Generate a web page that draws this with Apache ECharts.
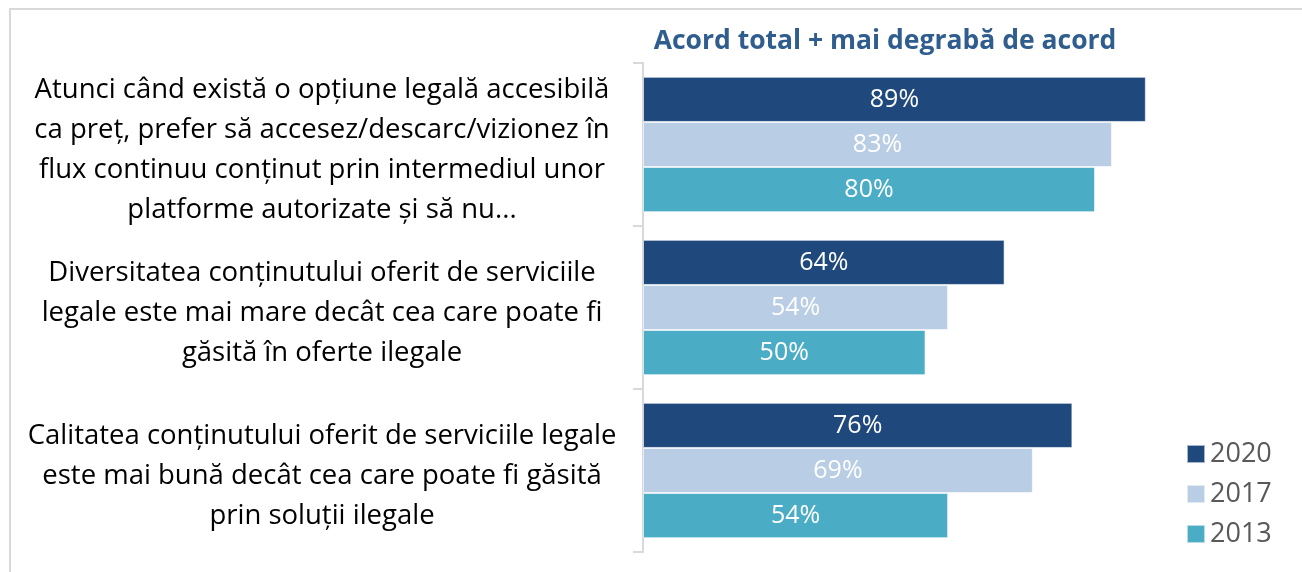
<!DOCTYPE html>
<html>
<head>
<meta charset="utf-8">
<script src="https://cdn.jsdelivr.net/npm/echarts@6/dist/echarts.min.js"></script>
<style>
  html, body { margin: 0; padding: 0; background: #fff; }
  #chart { width: 1302px; height: 572px; }
</style>
</head>
<body>
<div id="chart"></div>
<script>
const categories = [
  'Atunci când există o opțiune legală accesibilă\nca preț, prefer să accesez/descarc/vizionez în\nflux continuu conținut prin intermediul unor\nplatforme autorizate și să nu...',
  'Diversitatea conținutului oferit de serviciile\nlegale este mai mare decât cea care poate fi\ngăsită în oferte ilegale',
  'Calitatea conținutului oferit de serviciile legale\neste mai bună decât cea care poate fi găsită\nprin soluții ilegale'
];
const years = ['2020', '2017', '2013'];
const values2020 = [89, 64, 76];
const values2017 = [83, 54, 69];
const values2013 = [80, 50, 54];
const colors = ['#1f497d', '#b9cde5', '#4bacc6'];

const font = "'Open Sans', 'Noto Sans', sans-serif";
const seriesValues = [values2020, values2017, values2013];

const chart = echarts.init(document.getElementById('chart'));
chart.setOption({
  animation: false,
  textStyle: { fontFamily: font },
  title: {
    text: 'Acord total + mai degrabă de acord',
    left: 880,
    textAlign: 'center',
    top: 23,
    textStyle: { fontFamily: font, fontSize: 26.5, fontWeight: 'bold', color: '#2f5d8e' }
  },
  graphic: [{
    type: 'rect',
    shape: { x: 10, y: 9, width: 1310, height: 580 },
    style: { fill: 'none', stroke: '#d9d9d9', lineWidth: 2 },
    silent: true
  }],
  legend: {
    orient: 'vertical',
    left: 1186,
    top: 440,
    padding: 0,
    itemWidth: 18,
    itemHeight: 18,
    itemGap: 12,
    icon: 'rect',
    data: years,
    textStyle: { fontFamily: font, fontSize: 27, lineHeight: 28, color: '#595959' }
  },
  grid: { left: 643, right: 94, top: 63, bottom: 20, containLabel: false },
  xAxis: {
    type: 'value',
    min: 0,
    max: 100,
    show: false
  },
  yAxis: {
    type: 'category',
    inverse: true,
    data: categories,
    axisLine: { show: true, lineStyle: { color: '#d9d9d9', width: 2 } },
    axisTick: { show: true, length: 10, lineStyle: { color: '#d9d9d9', width: 2 } },
    axisLabel: {
      align: 'center',
      margin: 321,
      fontSize: 27.5,
      lineHeight: 40,
      color: '#000',
      fontFamily: font,
      // small blank line on top nudges the block down a few pixels
      formatter: (v) => '{s|}\n' + v.split('\n').map(l => '{t|' + l + '}').join('\n'),
      rich: {
        s: { height: 12, lineHeight: 12, fontSize: 2 },
        t: { fontSize: 27.5, lineHeight: 40, color: '#000', fontFamily: font }
      }
    }
  },
  series: years.map((y, i) => ({
    name: y,
    type: 'bar',
    data: seriesValues[i],
    barGap: '0%',
    barCategoryGap: '17%',
    itemStyle: { color: colors[i], borderColor: 'rgba(255,255,255,0.6)', borderWidth: 1 },
    label: {
      show: true,
      position: 'inside',
      formatter: '{c}%',
      color: '#fff',
      fontSize: 25,
      fontFamily: font
    }
  }))
});
</script>
</body>
</html>
